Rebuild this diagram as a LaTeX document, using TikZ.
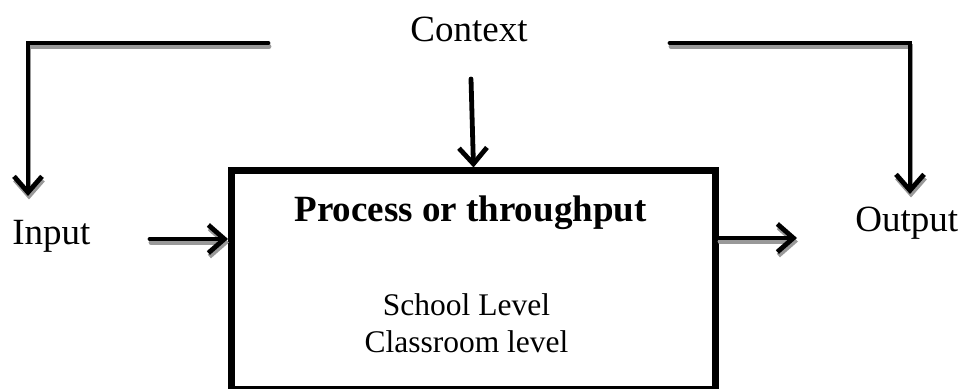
\documentclass[tikz,border=0pt]{standalone}
\usepackage{fontspec}
\setmainfont{Liberation Serif}
\usetikzlibrary{arrows.meta}

\tikzset{
  flow/.style={line width=2.4pt, line cap=round,
    -{Straight Barb[length=8pt,width=14pt,line width=2.4pt]}},
  flowshadow/.style={flow, draw=black!40,
    transform canvas={shift={(1,3.5)}}},
  bigtext/.style={font=\fontsize{18.5pt}{22pt}\selectfont, inner sep=0pt},
  smalltext/.style={font=\fontsize{15.75pt}{19pt}\selectfont, inner sep=0pt}
}

\begin{document}
\begin{tikzpicture}[x=0.5pt,y=-0.5pt]
      \useasboundingbox (0,0) rectangle (962,389);
      \node[draw, line width=3.5pt, minimum width=242pt, minimum height=109pt]
        (proc) at (473.5,280) {};
      \draw
        (469,42) node[bigtext, anchor=base] (context){Context}
        (12,245) node[bigtext, anchor=base west] (input){Input}
        (855,232) node[bigtext, anchor=base west] (output){Output}
        (470.5,222) node[bigtext, anchor=base, font=\fontsize{18.5pt}{22pt}\selectfont\bfseries] (title){Process or throughput}
        (466.5,315) node[smalltext, anchor=base] (school){School Level}
        (466.5,352) node[smalltext, anchor=base] (class){Classroom level};
      \coordinate (ctxleft) at (268,43);
      \coordinate (ctxright) at (670,43);
      \coordinate (ctxdrop) at (471,79);
      \coordinate (indrop) at (28,196);
      \coordinate (outdrop) at (910,194);
      \coordinate (inarr) at (150,239);
      \coordinate (outarr) at (797,238);
      % grey shadows first, arrows on top
      \begin{scope}
        \draw[flowshadow] (ctxleft) -| (indrop);
        \draw[flowshadow] (ctxright) -| (outdrop);
        \draw[flowshadow] (inarr) -- (inarr -| proc.west);
        \draw[flowshadow] (outarr -| proc.east) -- (outarr);
      \end{scope}
      \begin{scope}
        \draw[flow] (ctxleft) -| (indrop);
        \draw[flow] (ctxright) -| (outdrop);
        \draw[flow] (ctxdrop) -- (proc.north);
        \draw[flow] (inarr) -- (inarr -| proc.west);
        \draw[flow] (outarr -| proc.east) -- (outarr);
      \end{scope}
    \end{tikzpicture}
\end{document}
